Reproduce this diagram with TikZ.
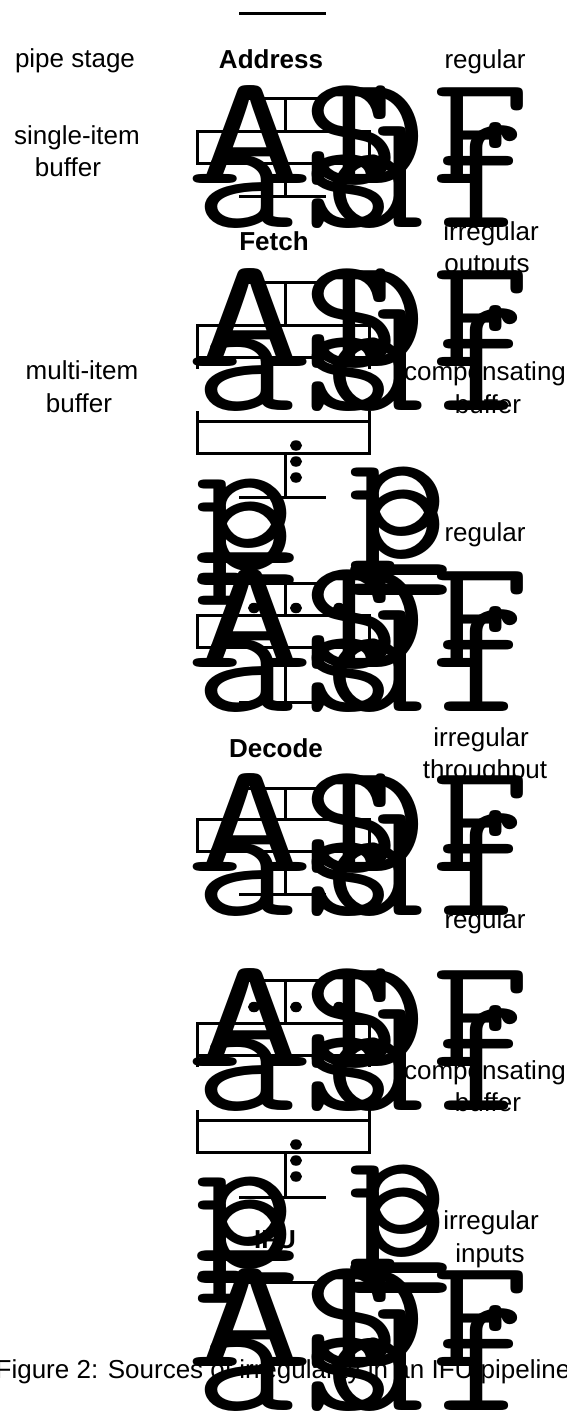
\documentclass[tikz,border=0pt]{standalone}
\usepackage{graphicx}
\usepackage{fontspec}
\setmainfont{Liberation Sans}
\usetikzlibrary{shapes.geometric}
\tikzset{
  x=1pt,y=-1pt,
  lab/.style={font=\fontsize{26}{26}\selectfont,inner sep=0pt,anchor=base,text=black},
  blab/.style={lab,font=\fontsize{26}{26}\selectfont\bfseries},
  gl/.style={font=\fontsize{165}{165}\selectfont\ttfamily,inner sep=0pt,anchor=base west,text=black},
  wire/.style={draw=black,line width=3pt},
  cell/.style={draw=black,line width=3pt,fill=none,minimum width=172pt,minimum height=32pt,inner sep=0pt,outer sep=0pt,anchor=north west},
  dotn/.style={ellipse,fill=black,inner sep=0pt,minimum width=12pt,minimum height=10.5pt},
}
\newcommand{\wdg}[1]{\scalebox{1.16}[1]{#1}}
\newcommand{\capg}[1]{\scalebox{1.16}[0.95]{#1}}
\newcommand{\wideg}[1]{\scalebox{1.5}[0.95]{#1}}
\newcommand{\glyphset}[2]{%
  \node[gl] (A#1) at (186,#2+183) {\wideg{A}};
  \node[gl] (S#1) at (302,#2+183) {\capg{S}};
  \node[gl] (D#1) at (327,#2+183) {\capg{D}};
  \node[gl] (F#1) at (431,#2+183) {\capg{F}};
  \node[gl] (a#1) at (195,#2+227) {\wdg{a}};
  \node[gl] (s#1) at (298,#2+227) {\wdg{s}};
  \node[gl] (d#1) at (326,#2+227) {\wdg{d}};
  \node[gl] (f#1) at (435,#2+227) {\wdg{f}};
}
\newcommand{\pset}[5]{%
  \node[gl] (p#1) at (#2,#3) {\capg{p}};
  \node[gl] (q#1) at (#2,#3+23) {\capg{p}};
  \node[gl] (u#1) at (#2-11,#4) {\scalebox{1.45}[1]{\_}};
  \node[gl] (v#1) at (#2-11,#4+#5) {\scalebox{1.45}[1]{\_}};
}
\begin{document}
\begin{tikzpicture}
\useasboundingbox (0,0) rectangle (566,1411);
\clip (0,0) rectangle (566,1411);
\coordinate (t0a) at (239,13); \coordinate (t0b) at (326,13);
\draw[wire] (t0a) -- (t0b);
% single-item stages: number / top rule / box top / bottom rule
\foreach \n/\t/\b/\e in {1/98/131.5/196,3/583/615.5/702,4/788/819.5/894}{
  \coordinate (tl\n) at (239,\t);
  \coordinate (tr\n) at (326,\t);
  \coordinate (tm\n) at (285,\t);
  \node[cell] (box\n) at (197.5,\b) {};
  \coordinate (bot\n) at (239,\e);
  \coordinate (bor\n) at (326,\e);
  \draw[wire] (tl\n) -- (tr\n);
  \draw[wire] (tm\n) -- (tm\n |- box\n.north);
  \draw[wire] (tm\n |- box\n.south) -- (tm\n |- bot\n);
  \draw[wire] (bot\n) -- (bor\n);
}
% multi-item buffers
\foreach \n/\t/\b/\l/\e in {2/282/325.5/421.5/497,5/980/1023.5/1120.5/1197}{
  \coordinate (tl\n) at (239,\t);
  \coordinate (tr\n) at (326,\t);
  \coordinate (tm\n) at (285,\t);
  \node[cell] (top\n) at (197.5,\b) {};
  \node[cell] (low\n) at (197.5,\l) {};
  \draw[wire] (top\n.south west) -- ++(0,11);
  \draw[wire] (top\n.south east) -- ++(0,11);
  \draw[wire] (low\n.north west) -- ++(0,-11);
  \draw[wire] (low\n.north east) -- ++(0,-11);
  \coordinate (bl\n) at (239,\e);
  \coordinate (br\n) at (326,\e);
  \draw[wire] (tl\n) -- (tr\n);
  \draw[wire] (tm\n) -- (tm\n |- top\n.north);
  \draw[wire] (tm\n |- low\n.south) -- (tm\n |- bl\n);
  \draw[wire] (bl\n) -- (br\n);
  \node[dotn] (vd\n a) at (296,\l+24) {};
  \node[dotn] (vd\n b) at (296,\l+40) {};
  \node[dotn] (vd\n c) at (296,\l+56) {};
}
\coordinate (tl6) at (239,1282); \coordinate (tr6) at (326,1282);
\draw[wire] (tl6) -- (tr6);
% huge glyphs
\glyphset{1}{0}
\glyphset{2}{183}
\glyphset{3}{484}
\glyphset{4}{688}
\glyphset{5}{883}
\glyphset{6}{1183}
\foreach \n/\y in {3/608,5/1007}{
  \node[dotn] (hd\n a) at (254,\y) {};
  \node[dotn] (hd\n b) at (296,\y) {};
  \node[dotn] (hd\n c) at (339,\y) {};
}
\pset{l1}{195}{547}{530}{22}
\pset{r1}{348}{535}{542}{20}
\pset{l2}{195}{1245}{1228}{22}
\pset{r2}{348}{1233}{1240}{20}
% labels
\node[lab] (l1) at (75,67) {pipe stage};
\node[blab] (l2) at (271,68) {Address};
\node[lab] (l3) at (485,68) {regular};
\node[lab] (l4) at (77,144) {single-item};
\node[lab] (l5) at (68,176) {buffer};
\node[blab] (l6) at (274,250) {Fetch};
\node[lab] (l7) at (491,240) {irregular};
\node[lab] (l8) at (487,272) {outputs};
\node[lab] (l9) at (82,379) {multi-item};
\node[lab] (l10) at (79,412) {buffer};
\node[lab] (l11) at (485,380) {compensating};
\node[lab] (l12) at (488,413) {buffer};
\node[lab] (l13) at (485,541) {regular};
\node[blab] (l14) at (276,757) {Decode};
\node[lab] (l15) at (481,746) {irregular};
\node[lab] (l16) at (485,778) {throughput};
\node[lab] (l17) at (485,928) {regular};
\node[lab] (l18) at (485,1079) {compensating};
\node[lab] (l19) at (488,1111) {buffer};
\node[blab] (l20) at (275,1248) {IFU};
\node[lab] (l21) at (491,1229) {irregular};
\node[lab] (l22) at (490,1262) {inputs};
\node[lab] (cap) at (283,1378) {Figure 2: Sources of irregularity in an IFU pipeline};
\end{tikzpicture}
\end{document}
